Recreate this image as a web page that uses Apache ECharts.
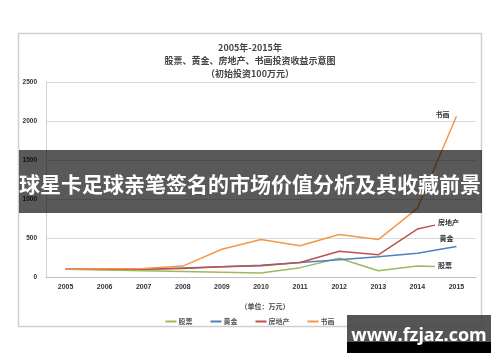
<!DOCTYPE html>
<html>
<head>
<meta charset="utf-8">
<script src="https://cdn.jsdelivr.net/npm/echarts@6/dist/echarts.min.js"></script>
<style>html,body{margin:0;padding:0;background:#fff;}#c{width:500px;height:362px;}</style>
</head>
<body>
<div id="c"></div>
<script>
// ---- data ----
var years = ['2005','2006','2007','2008','2009','2010','2011','2012','2013','2014','2015'];
var yTicks = [0, 500, 1000, 1500, 2000, 2500];
var seriesNames = ['股票','黄金','房地产','书画'];
// [year position, value]
var stockData = [[2005,100],[2006,90],[2007,80],[2008,70],[2009,60],[2010,50],[2011,120],[2012,240],[2013,80],[2014,142],[2014.45,135]];
var goldData = [[2005,100],[2006,100],[2007,100],[2008,115],[2009,130],[2010,150],[2011,185],[2012,220],[2013,260],[2014,305],[2015,390]];
var estateData = [[2005,100],[2006,100],[2007,100],[2008,110],[2009,130],[2010,145],[2011,185],[2012,330],[2013,285],[2014,615],[2014.45,665]];
var artData = [[2005,100],[2006,105],[2007,110],[2008,140],[2009,355],[2010,480],[2011,400],[2012,545],[2013,480],[2014,880],[2015,2060]];
var titleLines = ['2005年-2015年','股票、黄金、房地产、书画投资收益示意图','（初始投资100万元）'];
var unitText = '（单位：万元）';
var bannerText = '球星卡足球亲笔签名的市场价值分析及其收藏前景';
var watermarkText = 'www.fzjaz.com';

var colors = ['#9bbb59','#4f81bd','#c0504d','#f79646'];
var cjk = '"Noto Sans CJK SC", sans-serif';

var chart = echarts.init(document.getElementById('c'), null, {renderer:'canvas'});

function mkSeries(name, data, color, offset) {
  return {
    name: name, type: 'line', data: data, xAxisIndex: 1,
    symbol: 'none', smooth: false,
    lineStyle: {color: color, width: 1.5},
    itemStyle: {color: color},
    endLabel: {show: true, formatter: name, fontSize: 7, color: '#333', fontFamily: cjk, fontWeight: 'bold', offset: offset, distance: 3}
  };
}

var option = {
  animation: false,
  backgroundColor: '#fff',
  color: colors,
  title: [
    {text: titleLines[0], left: 'center', top: 38, textStyle: {fontSize: 9, fontWeight: 'bold', color: '#444', fontFamily: cjk}},
    {text: titleLines[1], left: 'center', top: 51, textStyle: {fontSize: 9, fontWeight: 'bold', color: '#444', fontFamily: cjk}},
    {text: titleLines[2], left: 'center', top: 64, textStyle: {fontSize: 9, fontWeight: 'bold', color: '#444', fontFamily: cjk}},
    {text: unitText, left: 260, top: 298, textAlign: 'center', textStyle: {fontSize: 7, fontWeight: 'bold', color: '#444', fontFamily: cjk}}
  ],
  legend: {
    data: seriesNames, left: 'center', top: 313,
    icon: 'rect', itemWidth: 11, itemHeight: 2, itemGap: 18,
    textStyle: {fontSize: 7, color: '#555', fontFamily: cjk, fontWeight: 'bold', padding: [0,0,0,-3]}
  },
  grid: {left: 46, right: 24, top: 82, bottom: 85, containLabel: false},
  xAxis: [
    {type: 'category', data: years, boundaryGap: true,
     axisLine: {show: true, lineStyle: {color: '#bfbfbf'}},
     axisTick: {show: false},
     axisLabel: {fontSize: 7, color: '#333', fontWeight: 'bold', margin: 7, fontFamily: 'Liberation Sans, sans-serif'}},
    {type: 'value', min: 2004.5, max: 2015.5, show: false}
  ],
  yAxis: {
    type: 'value', min: yTicks[0], max: yTicks[yTicks.length-1], interval: 500,
    axisLine: {show: true, lineStyle: {color: '#d0d0d0'}},
    axisTick: {show: false},
    splitLine: {lineStyle: {color: '#d9d9d9'}},
    axisLabel: {fontSize: 6.5, color: '#333', fontWeight: 'bold', margin: 9, fontFamily: 'Liberation Sans, sans-serif',
      formatter: function (v) { return String(v); }}
  },
  series: [
    mkSeries(seriesNames[0], stockData, colors[0], [0, -1]),
    mkSeries(seriesNames[1], goldData, colors[1], [-20, -8]),
    mkSeries(seriesNames[2], estateData, colors[2], [0, -3]),
    mkSeries(seriesNames[3], artData, colors[3], [-24, -2])
  ],
  graphic: [
    {type: 'rect', z: 0, silent: true, shape: {x: 18.5, y: 33.5, width: 463, height: 293},
     style: {fill: null, stroke: '#cfcfcf', lineWidth: 1.5}},
    {type: 'rect', z: 100, silent: true, shape: {x: 19, y: 150, width: 463, height: 63},
     style: {fill: 'rgba(0,0,0,0.65)'}},
    {type: 'text', z: 101, silent: true, x: 250, y: 184,
     style: {text: bannerText, fill: '#fff', fontSize: 21, fontWeight: 'bold', fontFamily: cjk, align: 'center', verticalAlign: 'middle'}},
    {type: 'rect', z: 100, silent: true, shape: {x: 347, y: 315, width: 144, height: 27},
     style: {fill: 'rgba(70,70,70,0.92)'}},
    {type: 'rect', z: 100, silent: true, shape: {x: 347, y: 342, width: 144, height: 11},
     style: {fill: '#000'}},
    {type: 'text', z: 101, silent: true, x: 419, y: 336,
     style: {text: watermarkText, fill: '#fff', fontSize: 18, fontWeight: 'bold', fontFamily: '"Open Sans", sans-serif', align: 'center', verticalAlign: 'middle'}}
  ]
};
chart.setOption(option);
</script>
</body>
</html>
